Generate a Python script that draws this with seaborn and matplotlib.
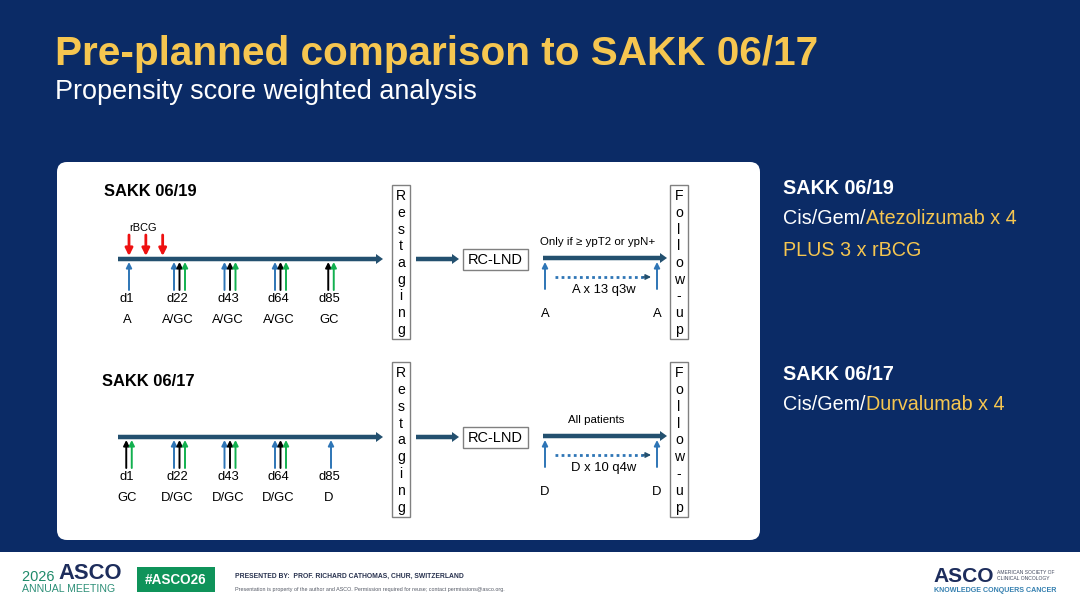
import numpy as np
import seaborn as sns
import matplotlib.pyplot as plt
from matplotlib.patches import Rectangle, FancyBboxPatch

# data of the two schemas
days = [1, 22, 43, 64, 85]
day_labels = ['d1', 'd22', 'd43', 'd64', 'd85']
drugs_0619 = ['A', 'A/GC', 'A/GC', 'A/GC', 'GC']
drugs_0617 = ['GC', 'D/GC', 'D/GC', 'D/GC', 'D']
rbcg_days = [1, 8, 15]
restaging = list('Restaging')
followup = list('Follow-up')

navy = '#0b2b66'
yellow = '#f6c650'
line_col = '#23506f'
blue = '#2e75b6'
green = '#12b04f'

sns.set_theme(style='white')
plt.rcParams['font.family'] = ['Liberation Sans', 'DejaVu Sans']

fig = plt.figure(figsize=(10.8, 6.08), dpi=100, facecolor=navy)
ax = fig.add_axes([0, 0, 1, 1])
ax.set_xlim(0, 1080)
ax.set_ylim(608, 0)
ax.axis('off')


def pt(px):
    return px * 0.72


def day_x(d):
    return 129 + (d - 1) * (331 - 129) / 84


def up_arrow(x, y0, y1, c):
    ax.annotate('', xy=(x, y1), xytext=(x, y0),
                arrowprops=dict(arrowstyle='-|>', color=c, lw=1.4,
                                mutation_scale=8, shrinkA=0, shrinkB=0))


def thick_arrow(x0, x1, y):
    ax.arrow(x0, y, x1 - x0, 0, width=4.5, head_width=10, head_length=7,
             length_includes_head=True, color=line_col, lw=0)


def vbox(x, y0, y1, letters):
    ax.add_patch(Rectangle((x, y0), 18, y1 - y0, fill=False, ec='#808080', lw=1))
    ys = np.linspace(y0 + 11, y1 - 9, len(letters))
    for ch, yy in zip(letters, ys):
        ax.text(x + 9, yy, ch, ha='center', va='center', fontsize=pt(14), color='black')


# header
ax.text(55, 54, 'Pre-planned comparison to SAKK 06/17', fontsize=pt(40.5), fontweight='bold',
        color=yellow, va='center', ha='left')
ax.text(55, 92, 'Propensity score weighted analysis', fontsize=pt(27), color='white',
        va='center', ha='left')

# white panel
ax.add_patch(FancyBboxPatch((57, 162), 703, 378, boxstyle='round,pad=0,rounding_size=10',
                            fc='white', ec='none'))


def schema(y_line, title, title_y, drugs, arm_text, arm_drug, cycle_text, top_box, bot_box, rbcg=False):
    ax.text(104 if rbcg else 102, title_y, title, fontsize=pt(16.5), fontweight='bold',
            color='black', va='center')
    thick_arrow(118, 383, y_line)
    if rbcg:
        ax.text(143, y_line - 31, 'rBCG', fontsize=pt(11), ha='center', va='center', color='black')
        for d in rbcg_days:
            ax.annotate('', xy=(day_x(d), y_line - 3), xytext=(day_x(d), y_line - 24),
                        arrowprops=dict(arrowstyle='-|>', color='#ee1111', lw=2,
                                        mutation_scale=11, shrinkA=0, shrinkB=0))
    for d, lab, drug in zip(days, day_labels, drugs):
        cols = []
        if 'A' in drug.split('/') or 'D' in drug.split('/'):
            cols.append(blue)
        if 'GC' in drug:
            cols += ['black', green]
        xc = day_x(d)
        for i, c in enumerate(cols):
            up_arrow(xc + (i - (len(cols) - 1) / 2) * 5.5, y_line + 31, y_line + 3, c)
        ax.text(xc - 2, y_line + 40, lab, fontsize=pt(13), ha='center', va='center', color='black')
        ax.text(xc - 2, y_line + 61, drug, fontsize=pt(13), ha='center', va='center', color='black')
    vbox(392, top_box, bot_box, restaging)
    thick_arrow(416, 459, y_line)
    ax.add_patch(Rectangle((463, y_line - 10), 65, 21, fill=False, ec='#808080', lw=1))
    ax.text(495.5, y_line + 0.5, 'RC-LND', fontsize=pt(14.5), ha='center', va='center', color='black')
    thick_arrow(543, 667, y_line - 1)
    ax.text(596 if not rbcg else 598, y_line - 17, arm_text, fontsize=pt(11.5), ha='center',
            va='center', color='black')
    for xa in (545, 657):
        up_arrow(xa, y_line + 30, y_line + 3, blue)
        ax.text(xa, y_line + 55, arm_drug, fontsize=pt(13), ha='center', va='center', color='black')
    yd = y_line + 18
    ax.plot([555, 644], [yd, yd], ls=(0, (1, 1.2)), lw=2, color=blue)
    ax.annotate('', xy=(651, yd), xytext=(643, yd),
                arrowprops=dict(arrowstyle='-|>', color=line_col, lw=1, mutation_scale=8,
                                shrinkA=0, shrinkB=0))
    ax.text(604, yd + 13, cycle_text, fontsize=pt(13), ha='center', va='center', color='black')
    vbox(670, top_box, bot_box, followup)


schema(259, 'SAKK 06/19', 191, drugs_0619, 'Only if \u2265 ypT2 or ypN+', 'A', 'A x 13 q3w',
       185, 339, rbcg=True)
schema(437, 'SAKK 06/17', 381, drugs_0617, 'All patients', 'D', 'D x 10 q4w', 362, 517)

# right-hand description
fs_r = pt(19.8)
ax.text(783, 188, 'SAKK 06/19', fontsize=fs_r, fontweight='bold', color='white', va='center')
t = ax.text(783, 219, 'Cis/Gem/', fontsize=fs_r, color='white', va='center')
ax.annotate('Atezolizumab x 4', xy=(1, 0), xycoords=t, fontsize=fs_r, color=yellow, va='bottom')
ax.text(783, 250, 'PLUS 3 x rBCG', fontsize=fs_r, color=yellow, va='center')
ax.text(783, 374, 'SAKK 06/17', fontsize=fs_r, fontweight='bold', color='white', va='center')
t = ax.text(783, 405, 'Cis/Gem/', fontsize=fs_r, color='white', va='center')
ax.annotate('Durvalumab x 4', xy=(1, 0), xycoords=t, fontsize=fs_r, color=yellow, va='bottom')

# footer
ax.add_patch(Rectangle((0, 552), 1080, 56, fc='white', ec='none'))
t = ax.text(22, 577, '2026 ', fontsize=pt(14.5), color='#1f8a6a', va='center')
ax.annotate('ASCO', xy=(1, 0), xycoords=t, fontsize=pt(22), fontweight='bold', color='#1d2d5c',
            va='bottom')
ax.text(22, 589, 'ANNUAL MEETING', fontsize=pt(10.5), color='#2c8f77', va='center')
ax.add_patch(Rectangle((137, 567), 78, 25, fc='#0f935a', ec='none'))
ax.text(176, 579.5, '#ASCO26', fontsize=pt(13.5), fontweight='bold', color='white',
        ha='center', va='center')
ax.text(235, 576, 'PRESENTED BY:  PROF. RICHARD CATHOMAS, CHUR, SWITZERLAND', fontsize=pt(6.8),
        fontweight='bold', color='#28324f', va='center')
ax.text(235, 590, 'Presentation is property of the author and ASCO. Permission required for reuse; '
        'contact permissions@asco.org.', fontsize=pt(5.4), color='#555a66', va='center')
ax.text(933, 577, 'ASCO', fontsize=pt(21), fontweight='bold', color='#1d2d5c', va='center')
ax.text(997, 573, 'AMERICAN SOCIETY OF', fontsize=pt(5), color='#444b60', va='center')
ax.text(997, 579, 'CLINICAL ONCOLOGY', fontsize=pt(5), color='#444b60', va='center')
ax.text(934, 590, 'KNOWLEDGE CONQUERS CANCER', fontsize=pt(7.2), fontweight='bold',
        color='#3580b0', va='center')

fig.savefig('out.png', dpi=100, facecolor=navy)
